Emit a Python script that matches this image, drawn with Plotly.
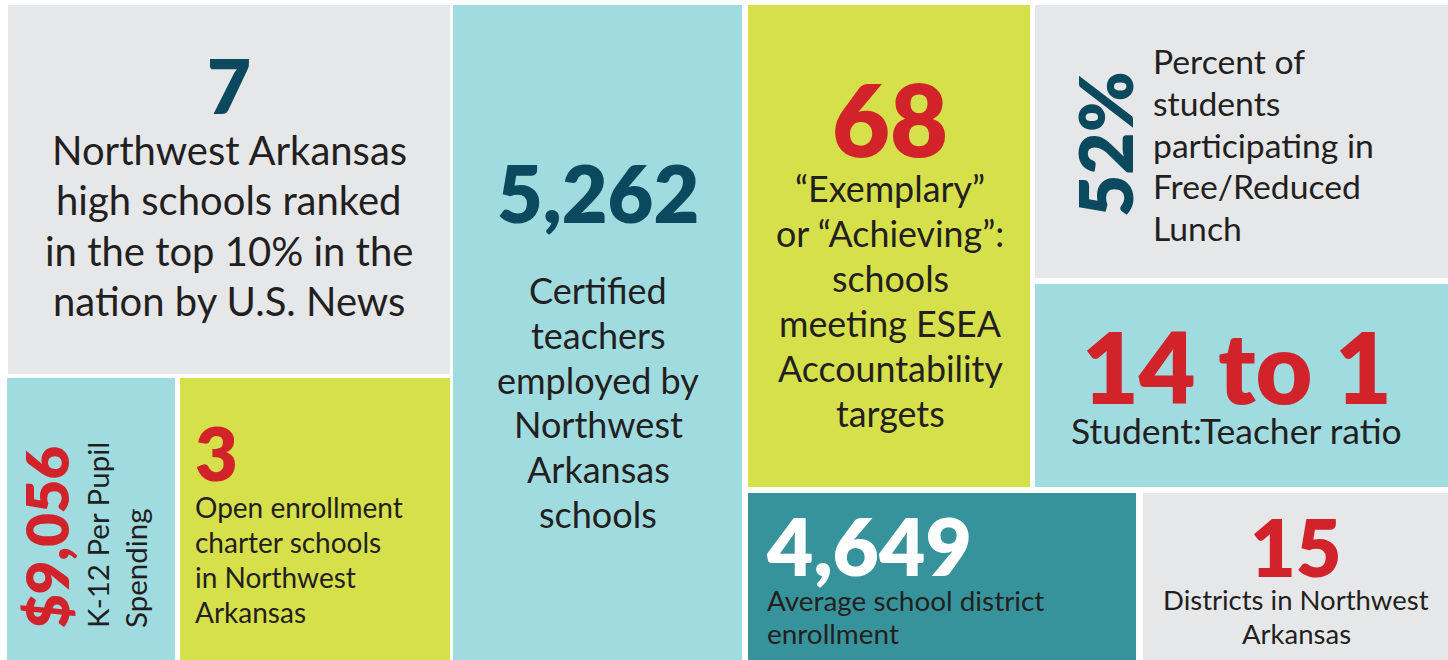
import plotly.graph_objects as go

# tile contents
values = ["7", "$9,056", "3", "5,262", "68", "52%", "14 to 1", "4,649", "15"]
labels = [
    ["Northwest Arkansas", "high schools ranked", "in the top 10% in the", "nation by U.S. News"],
    ["K-12 Per Pupil", "Spending"],
    ["Open enrollment", "charter schools", "in Northwest", "Arkansas"],
    ["Certified", "teachers", "employed by", "Northwest", "Arkansas", "schools"],
    ["\u201cExemplary\u201d", "or \u201cAchieving\u201d:", "schools", "meeting ESEA",
     "Accountability", "targets"],
    ["Percent of", "students", "participating in", "Free/Reduced", "Lunch"],
    ["Student:Teacher ratio"],
    ["Average school district", "enrollment"],
    ["Districts in Northwest", "Arkansas"],
]

# layout of tiles (pixels)
rects = [(8, 5, 450, 374), (7, 378, 175, 660), (180, 378, 450, 660),
         (453, 5, 742, 660), (748, 5, 1030, 487), (1035, 5, 1448, 278),
         (1035, 284, 1448, 487), (748, 493, 1136, 660), (1143, 493, 1448, 660)]
GRAY, AQUA, LIME, TEAL = "#E6E7E9", "#9FDBDF", "#D6E04B", "#37939B"
NAVY, RED, INK = "#0B4A5E", "#D2232A", "#231F20"
fills = [GRAY, AQUA, LIME, AQUA, LIME, GRAY, AQUA, TEAL, GRAY]
num_colors = [NAVY, RED, RED, NAVY, RED, NAVY, RED, "white", RED]

# (x, y, size, xanchor, yanchor, angle)
num_pos = [(229, 84, 76, "center", "middle", 0),
           (46, 630, 58, "center", "bottom", -90),
           (193, 452, 74, "left", "middle", 0),
           (598, 192, 79, "center", "middle", 0),
           (890, 118, 100, "center", "middle", 0),
           (1105, 144, 73, "center", "middle", -90),
           (1237, 366, 98, "center", "middle", 0),
           (764, 545, 80, "left", "middle", 0),
           (1296, 546, 79, "center", "middle", 0)]
# (x, y of first line, line step, size, xanchor, angle)
lab_pos = [(229, 150, 50.3, 40, "center", 0),
           (97, 630, 38, 29.5, "center", -90),
           (193, 507, 35, 28, "left", 0),
           (598, 290, 44.8, 36, "center", 0),
           (890, 188, 45, 35.8, "center", 0),
           (1151, 61, 41.8, 33.7, "left", 0),
           (1236, 430, 0, 35.5, "center", 0),
           (765, 600, 33, 27.9, "left", 0),
           (1296, 599, 34, 27.5, "center", 0)]

fig = go.Figure()
for (x0, y0, x1, y1), c in zip(rects, fills):
    fig.add_shape(type="rect", x0=x0, y0=y0, x1=x1, y1=y1,
                  fillcolor=c, line_width=0, layer="below")

for v, c, (x, y, s, xa, ya, ang) in zip(values, num_colors, num_pos):
    fig.add_annotation(x=x, y=y, text=v, showarrow=False, xanchor=xa, yanchor=ya,
                       textangle=ang,
                       font=dict(family="Lato", size=s, color=c, weight=800))

for lines, (x, y, step, s, xa, ang) in zip(labels, lab_pos):
    for i, line in enumerate(lines):
        if ang:
            # rotated text: lines advance to the right, left-aligned at the bottom
            fig.add_annotation(x=x + i * step, y=y, text=line, showarrow=False,
                               xanchor="center", yanchor="bottom", textangle=ang,
                               font=dict(family="Lato", size=s, color=INK))
        else:
            fig.add_annotation(x=x, y=y + i * step, text=line, showarrow=False,
                               xanchor=xa, yanchor="middle",
                               font=dict(family="Lato", size=s, color=INK))

fig.update_xaxes(range=[0, 1448], visible=False)
fig.update_yaxes(range=[660, 0], visible=False)
fig.update_layout(width=1448, height=660, margin=dict(l=0, r=0, t=0, b=0),
                  plot_bgcolor="white", paper_bgcolor="white", showlegend=False)
fig.write_html("out.html", config={"displayModeBar": False},
               post_script="document.body.style.margin='0';")
